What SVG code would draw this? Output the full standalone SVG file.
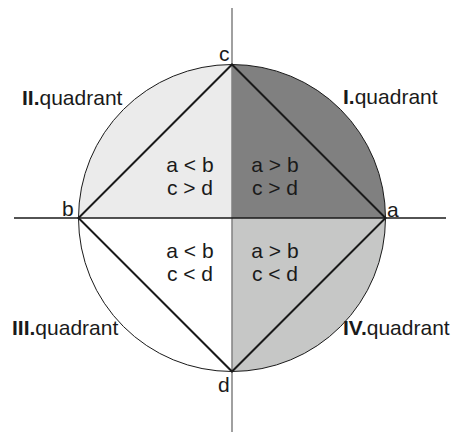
<svg xmlns="http://www.w3.org/2000/svg" width="457" height="434" viewBox="0 0 457 434">
<style>
text{font-family:"Liberation Sans",Arial,sans-serif;font-size:21px;fill:#1a1a1a}
.c{text-anchor:middle}
.b{font-weight:bold}
</style>
<rect width="457" height="434" fill="#fff"/>
<g id="quadrants">
<path d="M232,218 L232,64.5 A153.5,153.5 0 0 1 385.5,218 Z" fill="#808080"/>
<path d="M232,218 L232,64.5 A153.5,153.5 0 0 0 78.5,218 Z" fill="#ebebeb"/>
<path d="M232,218 L385.5,218 A153.5,153.5 0 0 1 232,371.5 Z" fill="#c6c7c6"/>
<circle cx="232" cy="218" r="153.5" fill="none" stroke="#1a1a1a" stroke-width="1"/>
</g>
<g id="connectors">
<line x1="232" y1="8" x2="232" y2="432" stroke="#808080" stroke-width="1.5"/>
<line x1="14" y1="218" x2="446" y2="218" stroke="#1a1a1a" stroke-width="1.5"/>
<path d="M232,64.5 L385.5,218 L232,371.5 L78.5,218 Z" fill="none" stroke="#1a1a1a" stroke-width="2" stroke-linejoin="miter"/>
</g>
<g id="node-a"><text x="387" y="217">a</text></g>
<g id="node-b"><text x="62" y="216">b</text></g>
<g id="node-c"><text x="219" y="61">c</text></g>
<g id="node-d"><text x="218" y="392">d</text></g>
<g id="q1"><text x="343" y="104"><tspan class="b">I.</tspan>quadrant</text></g>
<g id="q2"><text x="22" y="105"><tspan class="b">II.</tspan>quadrant</text></g>
<g id="q3"><text x="12" y="335"><tspan class="b">III.</tspan>quadrant</text></g>
<g id="q4"><text x="343" y="335"><tspan class="b">IV.</tspan>quadrant</text></g>
<g id="cell-q2"><text class="c" x="190" y="172">a &lt; b</text><text class="c" x="190" y="195">c &gt; d</text></g>
<g id="cell-q1"><text class="c" x="275" y="172">a &gt; b</text><text class="c" x="275" y="195">c &gt; d</text></g>
<g id="cell-q3"><text class="c" x="190" y="258">a &lt; b</text><text class="c" x="190" y="281">c &lt; d</text></g>
<g id="cell-q4"><text class="c" x="275" y="258">a &gt; b</text><text class="c" x="275" y="281">c &lt; d</text></g>
</svg>
